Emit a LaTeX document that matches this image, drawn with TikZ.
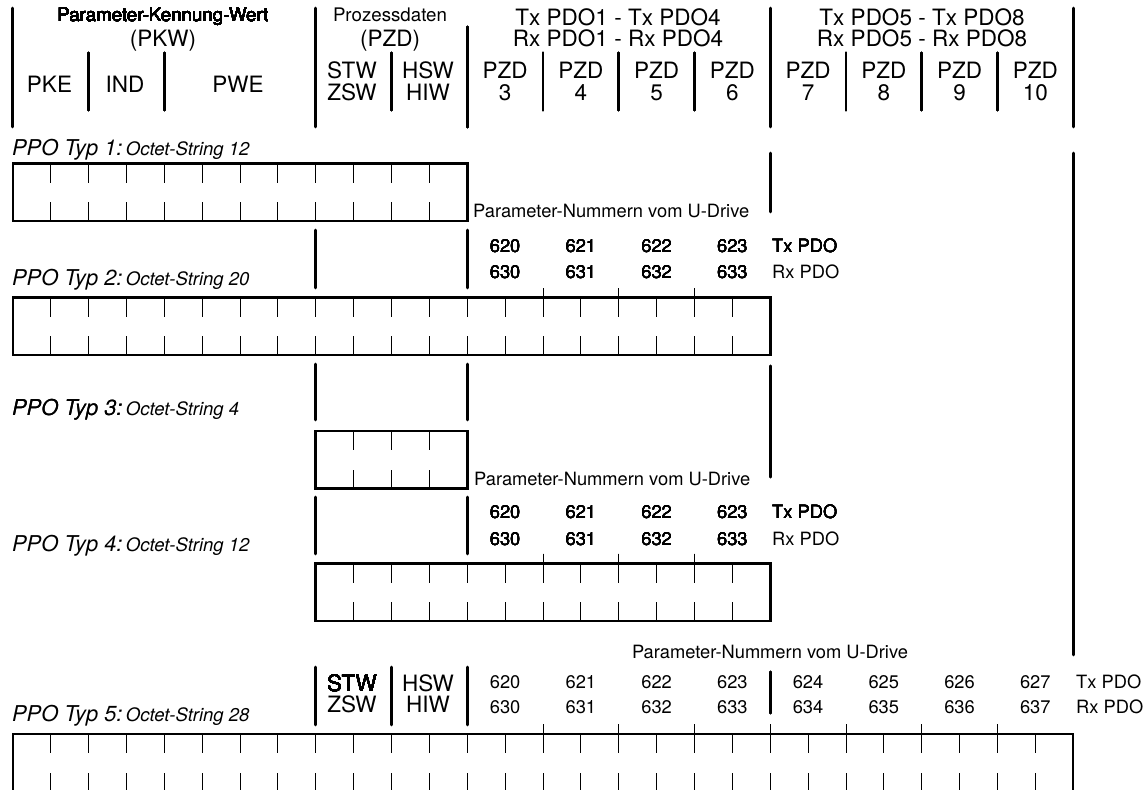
\documentclass[tikz,border=0pt]{standalone}
\usepackage{fontspec}
\setmainfont{TeX Gyre Heros}
\usetikzlibrary{positioning}

% cell grid of the octet strings
\def\xo{12.8}
\def\cw{37.87}
\newcommand{\octbox}[3]{%
  \draw[frame] ({\xo+\cw*#1},#3) rectangle ({\xo+\cw*#2},#3+57.5);
  \pgfmathtruncatemacro{\ka}{#1+1}\pgfmathtruncatemacro{\kb}{#2-1}
  \foreach \k in {\ka,...,\kb}{
    \draw[tick] ({\xo+\cw*\k},#3) -- ++(0,19);
    \draw[tick] ({\xo+\cw*\k},#3+57.5) -- ++(0,-19);
  }}
\newcommand{\vsep}[3]{\draw[sep] ({\xo+\cw*#1},#2) -- ({\xo+\cw*#1},#3);}
\newcommand{\vmark}[2]{\draw[tick] ({\xo+\cw*#1},#2) -- ++(0,10);}

\begin{document}
\begin{tikzpicture}[x=1pt, y=-1pt,
    sep/.style={line width=2.8pt, line cap=round},
    frame/.style={line width=2.6pt},
    tick/.style={line width=0.9pt},
    lbl/.style={inner sep=0pt, anchor=base},
    hdr/.style={lbl, font=\fontsize{18.7}{22}\selectfont},
    col/.style={lbl, font=\fontsize{22.5}{22}\selectfont},
    num/.style={lbl, font=\fontsize{18.3}{22}\selectfont},
    typ/.style={inner sep=0pt, anchor=base west, font=\fontsize{21.8}{22}\selectfont\itshape},
    oct/.style={inner sep=0pt, anchor=base west, font=\fontsize{18.5}{22}\selectfont\itshape}
]
\useasboundingbox (0,0) rectangle (1147,789);

% header
\foreach \k in {0,8,20,28} \vsep{\k}{8}{127}
\vsep{12}{27}{127}
\foreach \k in {2,4,10,14,16,18,22,24,26} \vsep{\k}{53}{110}
\node[hdr] (pkw1) at (163,21.7) {Parameter-Kennung-Wert};
\node[col] (pkw2) at (163,46.7) {(PKW)};
\node[hdr] (pzd1) at (390,21.7) {Prozessdaten};
\node[col] (pzd2) at (390,46.7) {(PZD)};
\node[col] (tx14) at (618,25.5) {Tx PDO1 - Tx PDO4};
\node[col] (rx14) at (618,46.7) {Rx PDO1 - Rx PDO4};
\node[col] (tx58) at (922,25.5) {Tx PDO5 - Tx PDO8};
\node[col] (rx58) at (922,46.7) {Rx PDO5 - Rx PDO8};
\node[col] (pke) at (49.5,92.5) {PKE};
\node[col] (ind) at (125,92.5) {IND};
\node[col] (pwe) at (238,92.5) {PWE};
\node[col] (stw) at (352,79) {STW};
\node[col] (zsw) at (352,100) {ZSW};
\node[col] (hsw) at (428,79) {HSW};
\node[col] (hiw) at (428,100) {HIW};
\foreach \n [count=\i from 0] in {3,...,10}{
  \node[col] (pzd\n) at ({\xo+\cw*(13+2*\i)},79) {PZD};
  \node[col] (pzdn\n) at ({\xo+\cw*(13+2*\i)},100) {\n};
}

% PPO Typ 1
\node[typ] (typ1) at (12,155.5) {PPO Typ 1:};
\node[oct] (oct1) at ([xshift=3pt]typ1.base east) {Octet-String 12};
\octbox{0}{12}{163.5}
\vsep{20}{153}{212}
\vsep{28}{153}{655}
\node[num, anchor=base west] (pnr1) at (473,217.3) {Parameter-Nummern vom U-Drive};

% PPO Typ 2
\foreach \k in {8,12} \vsep{\k}{230}{288}
\foreach \k in {14,16,18} \vmark{\k}{288}
\foreach \i in {0,...,3}{
  \pgfmathtruncatemacro{\tx}{620+\i}\pgfmathtruncatemacro{\rx}{630+\i}
  \node[num] (tx2-\i) at ({\xo+\cw*(13+2*\i)},252.3) {\tx};
  \node[num] (rx2-\i) at ({\xo+\cw*(13+2*\i)},278.3) {\rx};
}
\node[num, anchor=base west] (txpdo2) at (772,252.3) {Tx PDO};
\node[num, anchor=base west] (rxpdo2) at (772,278.3) {Rx PDO};
\node[typ] (typ2) at (12,285) {PPO Typ 2:};
\node[oct] (oct2) at ([xshift=3pt]typ2.base east) {Octet-String 20};
\octbox{0}{20}{297.5}

% PPO Typ 3
\foreach \k in {8,12} \vsep{\k}{364}{420}
\vsep{20}{366}{477}
\node[typ] (typ3) at (12,415) {PPO Typ 3:};
\node[oct] (oct3) at ([xshift=3pt]typ3.base east) {Octet-String 4};
\octbox{8}{12}{431}
\node[num, anchor=base west] (pnr3) at (474,485) {Parameter-Nummern vom U-Drive};

% PPO Typ 4
\foreach \k in {8,12} \vsep{\k}{497}{554}
\foreach \k in {14,16,18} \vmark{\k}{553.5}
\foreach \i in {0,...,3}{
  \pgfmathtruncatemacro{\tx}{620+\i}\pgfmathtruncatemacro{\rx}{630+\i}
  \node[num] (tx4-\i) at ({\xo+\cw*(13+2*\i)},518.3) {\tx};
  \node[num] (rx4-\i) at ({\xo+\cw*(13+2*\i)},545) {\rx};
}
\node[num, anchor=base west] (txpdo4) at (772,518.3) {Tx PDO};
\node[num, anchor=base west] (rxpdo4) at (772,545) {Rx PDO};
\node[typ] (typ4) at (12,551.7) {PPO Typ 4:};
\node[oct] (oct4) at ([xshift=3pt]typ4.base east) {Octet-String 12};
\octbox{8}{20}{563.5}

% PPO Typ 5
\node[num] (pnr5) at (770,658.3) {Parameter-Nummern vom U-Drive};
\foreach \k in {8,10,12} \vsep{\k}{667}{725}
\vsep{20}{672}{713}
\foreach \k in {14,16,...,26} \vmark{\k}{724}
\node[col] (stw5) at (352,691) {STW};
\node[col] (zsw5) at (352,712) {ZSW};
\node[col] (hsw5) at (428,691) {HSW};
\node[col] (hiw5) at (428,712) {HIW};
\foreach \i in {0,...,7}{
  \pgfmathtruncatemacro{\tx}{620+\i}\pgfmathtruncatemacro{\rx}{630+\i}
  \node[num] (tx5-\i) at ({\xo+\cw*(13+2*\i)},688.3) {\tx};
  \node[num] (rx5-\i) at ({\xo+\cw*(13+2*\i)},713.3) {\rx};
}
\node[num, anchor=base west] (txpdo5) at (1076,688.3) {Tx PDO};
\node[num, anchor=base west] (rxpdo5) at (1076,713.3) {Rx PDO};
\node[typ] (typ5) at (12,721.7) {PPO Typ 5:};
\node[oct] (oct5) at ([xshift=3pt]typ5.base east) {Octet-String 28};
\octbox{0}{28}{734}
\end{tikzpicture}
\end{document}
